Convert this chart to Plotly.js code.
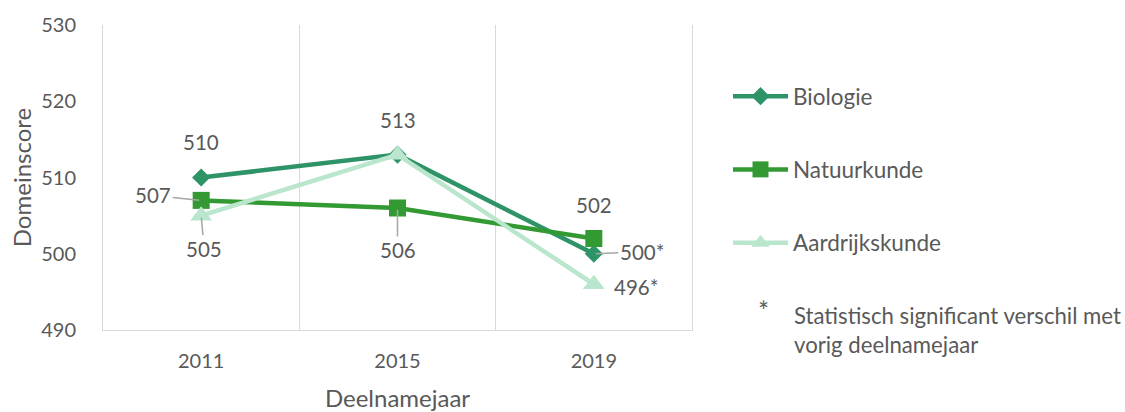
<!DOCTYPE html>
<html><head><meta charset="utf-8">
<script src="https://cdn.plot.ly/plotly-3.0.1.min.js"></script>
<style>html,body{margin:0;padding:0;background:#fff}#chart{width:1125px;height:412px}</style>
</head><body><div id="chart"></div>
<script>
// ---- data ----
const years = ['2011', '2015', '2019'];
const seriesNames = ['Biologie', 'Natuurkunde', 'Aardrijkskunde'];
const biologie = [510, 513, 500];
const natuurkunde = [507, 506, 502];
const aardrijkskunde = [505, 513, 496];
const sigBiologie = [false, false, true];
const sigNatuurkunde = [false, false, false];
const sigAardrijkskunde = [false, false, true];
const yTicks = [490, 500, 510, 520, 530];
const xTitle = 'Deelnamejaar';
const yTitle = 'Domeinscore';
const noteStar = '*';
const noteText = 'Statistisch significant verschil met<br>vorig deelnamejaar';

// ---- style ----
const colors = ['#2e9468', '#339a33', '#b9e6cd'];
const symbols = ['diamond', 'square', 'triangle-up'];
const markerSizes = [14, 17, 19];
const textColor = '#595959';
const font = 'Lato, "Open Sans", sans-serif';
// label offsets in pixels (ax, ay) and whether a leader line is drawn; null = no label
const labelPos = [
  [{ax: 0, ay: -36, lead: false}, {ax: 0, ay: -35, lead: false}, {ax: 48, ay: -2, lead: true}],
  [{ax: -48, ay: -5, lead: true}, {ax: 0, ay: 42, lead: true}, {ax: 0, ay: -34, lead: false}],
  [{ax: 3, ay: 33, lead: true}, null, {ax: 42, ay: 3, lead: false}]
];

const values = [biologie, natuurkunde, aardrijkskunde];
const sigs = [sigBiologie, sigNatuurkunde, sigAardrijkskunde];

const traces = seriesNames.map((name, i) => ({
  type: 'scatter', mode: 'lines+markers', name: name, legendgroup: 'g' + i,
  x: years, y: values[i],
  line: {color: colors[i], width: 4.5},
  marker: {color: colors[i], symbol: symbols[i], size: markerSizes[i]},
  hoverinfo: 'skip'
}));

const annotations = [];
values.forEach((vals, i) => {
  vals.forEach((v, j) => {
    const p = labelPos[i][j];
    if (!p) return;
    annotations.push({
      x: j, y: v, xref: 'x', yref: 'y',
      text: String(v) + (sigs[i][j] ? '*' : ''),
      showarrow: true, arrowhead: 0, arrowwidth: 1.5,
      arrowcolor: p.lead ? '#a6a6a6' : 'rgba(0,0,0,0)',
      standoff: 2,
      ax: p.ax, ay: p.ay,
      font: {family: font, size: 20.5, color: textColor}
    });
  });
});
annotations.push({
  xref: 'paper', yref: 'paper', x: (763 - 103) / 589, y: (330 - 311) / 305,
  xanchor: 'center', yanchor: 'middle', showarrow: false, text: noteStar,
  font: {family: font, size: 26, color: textColor}
});
annotations.push({
  xref: 'paper', yref: 'paper', x: (792 - 103) / 589, y: (330 - 330) / 305,
  xanchor: 'left', yanchor: 'middle', align: 'left', showarrow: false, text: noteText,
  font: {family: font, size: 22.2, color: textColor}
});

const layout = {
  width: 1125, height: 412,
  margin: {l: 103, r: 433, t: 25, b: 82},
  paper_bgcolor: '#ffffff', plot_bgcolor: '#ffffff',
  font: {family: font, size: 20, color: textColor},
  xaxis: {
    type: 'category', range: [-0.5, 2.5], tickson: 'boundaries',
    showgrid: true, gridcolor: '#d9d9d9', gridwidth: 1,
    showline: true, linecolor: '#d9d9d9', linewidth: 1,
    ticks: '', ticklabelstandoff: 13, zeroline: false,
    tickfont: {size: 20, color: textColor},
    title: {text: xTitle, font: {size: 24, color: textColor}, standoff: 20}
  },
  yaxis: {
    range: [490, 530], tickvals: yTicks, showgrid: false, zeroline: false,
    showline: true, mirror: true, linecolor: '#d9d9d9', linewidth: 1,
    ticks: '', ticklabelstandoff: 22,
    tickfont: {size: 20, color: textColor},
    title: {text: yTitle, font: {size: 24, color: textColor}, standoff: 2}
  },
  showlegend: true,
  legend: {
    x: (728 - 103) / 589, xanchor: 'left', y: (330 - 75) / 305, yanchor: 'top',
    font: {family: font, size: 22.5, color: textColor},
    tracegroupgap: 41, itemwidth: 55, bgcolor: 'rgba(0,0,0,0)'
  },
  annotations: annotations
};

Plotly.newPlot('chart', traces, layout, {staticPlot: true, displayModeBar: false});
</script>
</body></html>
